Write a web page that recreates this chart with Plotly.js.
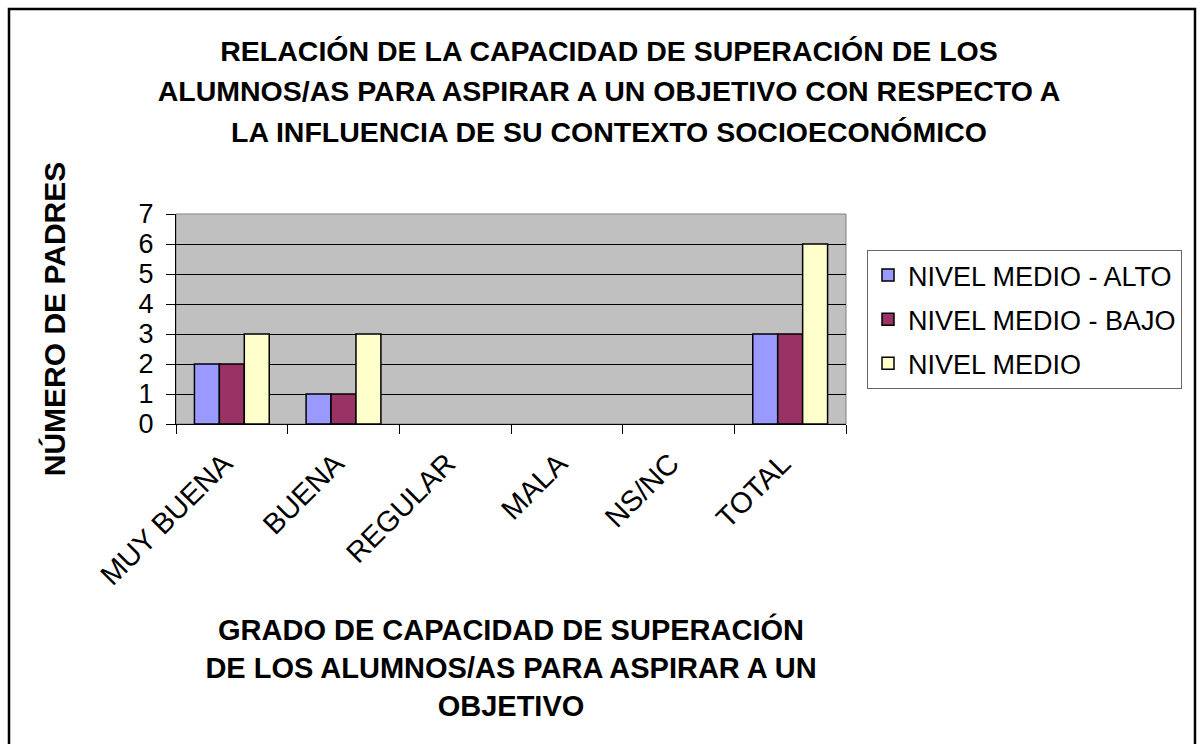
<!DOCTYPE html>
<html>
<head>
<meta charset="utf-8">
<script src="https://cdn.plot.ly/plotly-3.0.1.min.js"></script>
<style>
  html, body { margin: 0; padding: 0; background: #ffffff; }
  #chart { width: 1197px; height: 744px; }
</style>
</head>
<body>
<div id="chart"></div>
<script>
const categories = ["MUY BUENA", "BUENA", "REGULAR", "MALA", "NS/NC", "TOTAL"];
const seriesNames = ["NIVEL MEDIO - ALTO", "NIVEL MEDIO - BAJO", "NIVEL MEDIO"];
const medioAlto = [2, 1, 0, 0, 0, 3];
const medioBajo = [2, 1, 0, 0, 0, 3];
const medio = [3, 3, 0, 0, 0, 6];
const seriesColors = ["#9999FF", "#993366", "#FFFFCC"];
const yTicks = [0, 1, 2, 3, 4, 5, 6, 7];

const titleLines = [
  "RELACIÓN DE LA CAPACIDAD DE SUPERACIÓN DE LOS",
  "ALUMNOS/AS PARA ASPIRAR A UN OBJETIVO CON RESPECTO A",
  "LA INFLUENCIA DE SU CONTEXTO SOCIOECONÓMICO"
];
const xTitleLines = [
  "GRADO DE CAPACIDAD DE SUPERACIÓN",
  "DE LOS ALUMNOS/AS PARA ASPIRAR A UN",
  "OBJETIVO"
];
const yTitle = "NÚMERO DE PADRES";

const FONT = '"Liberation Sans", Arial, Helvetica, sans-serif';
const seriesValues = [medioAlto, medioBajo, medio];

const traces = seriesValues.map((vals, i) => ({
  type: "bar",
  name: seriesNames[i],
  x: categories,
  y: vals,
  legendgroup: "g" + i,
  marker: {
    color: seriesColors[i],
    // zero-height bars leave no visible outline, as in the original
    line: { color: "#000000", width: vals.map(v => (v === 0 ? 0 : 1.5)) }
  },
  hoverinfo: "x+y+name"
}));

// plot area in pixels: left 176, right 846, top 214, bottom 424
const W = 1197, H = 744, L = 176, R = 351, T = 214, B = 320;
const pw = W - L - R, ph = H - T - B;
const px = v => (v - L) / pw;
const py = v => (H - B - v) / ph;

const layout = {
  width: W,
  height: H,
  margin: { l: L, r: R, t: T, b: B, pad: 0 },
  paper_bgcolor: "#ffffff",
  plot_bgcolor: "#C0C0C0",
  font: { family: FONT, color: "#000000", size: 27 },
  barmode: "group",
  bargap: 0.33,
  bargroupgap: 0,
  title: {
    text: titleLines.map(t => '<span style="font-size:28.5px">' + t + '</span>').join("<br>"),
    font: { family: FONT, size: 31, color: "#000000", weight: "bold" },
    x: 609 / W,
    xanchor: "center",
    xref: "container",
    y: 1 - 61 / H,
    yanchor: "top",
    yref: "container"
  },
  xaxis: {
    type: "category",
    showline: true,
    linecolor: "#000000",
    linewidth: 1,
    ticks: "outside",
    tickson: "boundaries",
    ticklen: 9,
    tickcolor: "#000000",
    tickangle: -45,
    tickfont: { family: FONT, size: 29, color: "#000000" },
    ticklabelstandoff: 10,
    ticklabelshift: -8,
    showgrid: false,
    zeroline: false,
    automargin: false,
    title: {
      text: xTitleLines.join("<br>"),
      font: { family: FONT, size: 29, color: "#000000", weight: "bold" },
      standoff: 29
    }
  },
  yaxis: {
    range: [0, 7],
    tickvals: yTicks,
    ticktext: yTicks.map(String),
    showline: true,
    linecolor: "#000000",
    linewidth: 1,
    ticks: "outside",
    ticklen: 9,
    tickcolor: "#000000",
    tickfont: { family: FONT, size: 27, color: "#000000" },
    ticklabelstandoff: 7,
    showgrid: true,
    gridcolor: "#000000",
    gridwidth: 1,
    zeroline: false,
    automargin: false,
    title: {
      text: yTitle,
      font: { family: FONT, size: 30, color: "#000000", weight: "bold" },
      standoff: 64
    }
  },
  legend: {
    x: px(867),
    y: py(250),
    xanchor: "left",
    yanchor: "top",
    bgcolor: "#ffffff",
    bordercolor: "#666666",
    borderwidth: 1,
    font: { family: FONT, size: 27, color: "#000000" },
    traceorder: "grouped",
    tracegroupgap: 6,
    valign: "middle"
  },
  shapes: [
    {
      type: "rect", xref: "paper", yref: "paper",
      x0: 0, x1: 1, y0: 0, y1: 1,
      line: { color: "#808080", width: 1 },
      layer: "below"
    },
    {
      type: "rect", xref: "paper", yref: "paper",
      x0: px(9), x1: px(1195), y0: py(9), y1: py(760),
      line: { color: "#000000", width: 2.5 },
      fillcolor: "rgba(0,0,0,0)",
      layer: "above"
    }
  ],
  showlegend: true
};

Plotly.newPlot("chart", traces, layout, { displayModeBar: false });
</script>
</body>
</html>
